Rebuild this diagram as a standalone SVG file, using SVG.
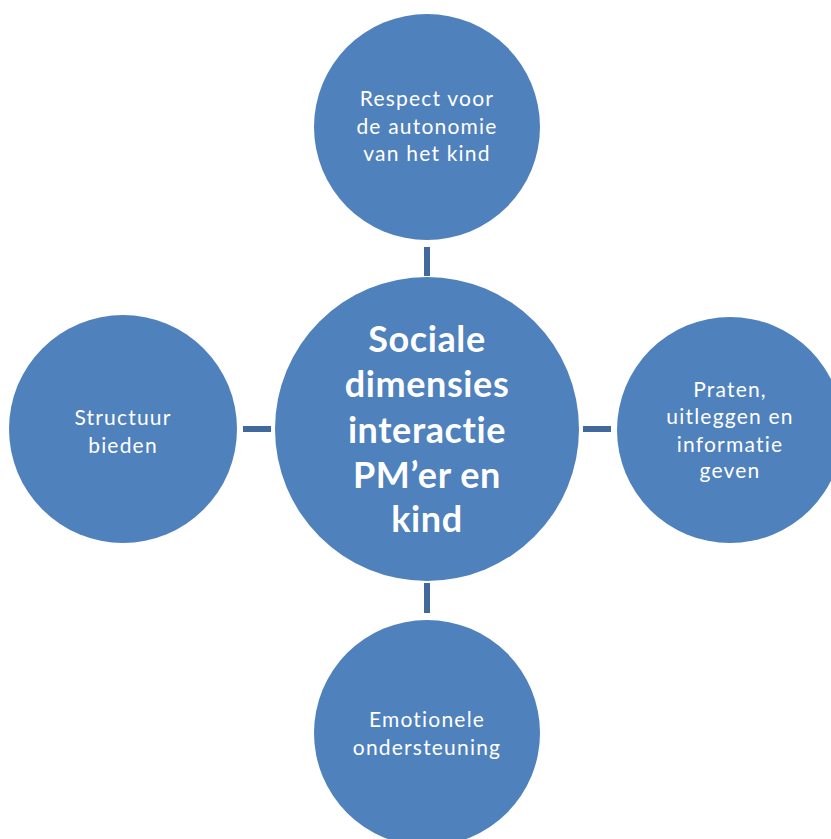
<svg xmlns="http://www.w3.org/2000/svg" width="831" height="839" viewBox="0 0 831 839">
<style>
.node{fill:#4F81BD;}
.conn{stroke:#41699B;stroke-width:6;fill:none;}
.lbl{font-family:Lato,"Open Sans",sans-serif;font-size:21px;letter-spacing:1.2px;fill:#FFFFFF;text-anchor:middle;font-variant-ligatures:none;}
.big{font-family:Lato,"Open Sans",sans-serif;font-size:36px;letter-spacing:0.6px;font-weight:bold;fill:#FFFFFF;text-anchor:middle;font-variant-ligatures:none;}
</style>
<rect width="831" height="839" fill="#FFFFFF"/>
<g id="connectors">
<line class="conn" x1="427" y1="247" x2="427" y2="276"/>
<line class="conn" x1="427" y1="583" x2="427" y2="613"/>
<line class="conn" x1="243" y1="429" x2="271" y2="429"/>
<line class="conn" x1="583" y1="429" x2="611" y2="429"/>
</g>
<g id="center">
<circle class="node" cx="427" cy="429" r="152"/>
<text class="big" x="427" y="352">Sociale</text>
<text class="big" x="427" y="397">dimensies</text>
<text class="big" x="427" y="443">interactie</text>
<text class="big" x="427" y="488">PM’er en</text>
<text class="big" x="427" y="532">kind</text>
</g>
<g id="top">
<circle class="node" cx="427" cy="127" r="113"/>
<text class="lbl" x="427" y="106">Respect voor</text>
<text class="lbl" x="427" y="134">de autonomie</text>
<text class="lbl" x="427" y="161">van het kind</text>
</g>
<g id="left">
<circle class="node" cx="123" cy="429" r="114"/>
<text class="lbl" x="123" y="425">Structuur</text>
<text class="lbl" x="123" y="453">bieden</text>
</g>
<g id="right">
<circle class="node" cx="730" cy="430" r="113"/>
<text class="lbl" x="730" y="397">Praten,</text>
<text class="lbl" x="730" y="424">uitleggen en</text>
<text class="lbl" x="730" y="452">informatie</text>
<text class="lbl" x="730" y="478">geven</text>
</g>
<g id="bottom">
<circle class="node" cx="427" cy="733" r="113"/>
<text class="lbl" x="427" y="727">Emotionele</text>
<text class="lbl" x="427" y="755">ondersteuning</text>
</g>
</svg>
